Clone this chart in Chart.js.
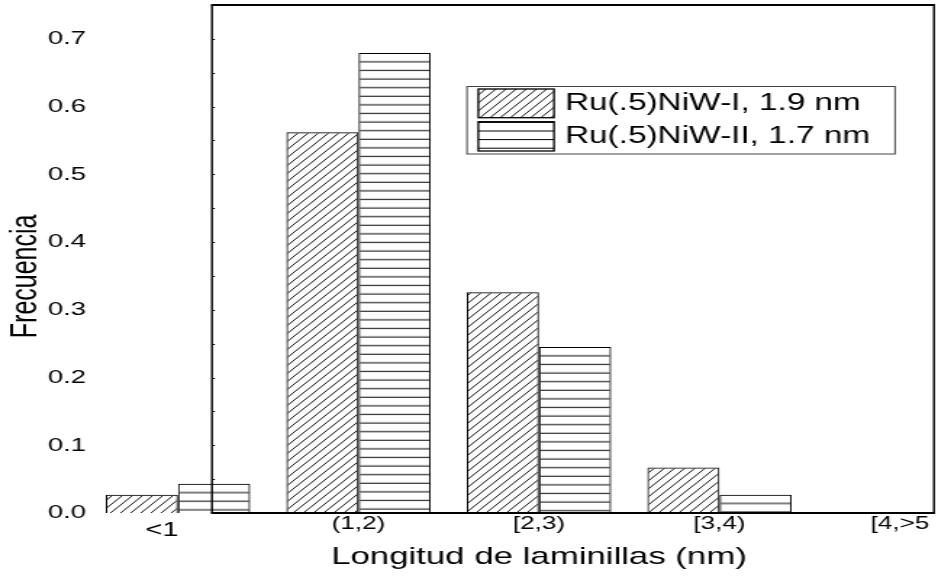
<!DOCTYPE html>
<html>
<head>
<meta charset="utf-8">
<title>Longitud de laminillas</title>
<script src="https://cdn.jsdelivr.net/npm/chart.js@4.4.1/dist/chart.umd.min.js"></script>
<style>
  html, body { margin: 0; padding: 0; background: #fff; overflow: hidden; }
  /* the original figure is stretched sideways: draw narrow, then widen */
  #wrap { width: 647px; height: 579px; transform: scaleX(1.449768); transform-origin: 0 0; }
  canvas { display: block; }
</style>
</head>
<body>
<div id="wrap"><canvas id="chart" width="647" height="579"></canvas></div>
<script>
const categories  = ['<1', '(1,2)', '[2,3)', '[3,4)', '[4,>5'];
const seriesNames = ['Ru(.5)NiW-I, 1.9 nm', 'Ru(.5)NiW-II, 1.7 nm'];
const freqNiW_I   = [0.027, 0.562, 0.326, 0.067, 0];
const freqNiW_II  = [0.043, 0.679, 0.245, 0.027, 0];
const yTickStep   = 0.1;
const yMax        = 0.75;

const SX = 938 / 647;          // page stretch
const sx = v => v / SX;        // screen x -> chart x
const FONT = "'Liberation Sans', Arial, Helvetica, sans-serif";

Chart.defaults.font.family = FONT;
Chart.defaults.color = '#000';

const canvas = document.getElementById('chart');
const ctx = canvas.getContext('2d');

// "/" hatching
function makeHatch() {
  const t = document.createElement('canvas');
  t.width = 7; t.height = 8;
  const g = t.getContext('2d');
  g.strokeStyle = '#000';
  g.lineWidth = 0.9;
  g.beginPath();
  [-7, 0, 7].forEach(x0 => { g.moveTo(x0, 8); g.lineTo(x0 + 7, 0); });
  g.stroke();
  return ctx.createPattern(t, 'repeat');
}
const hatch = makeHatch();

// horizontal lines 8.6px apart, the first one just under the top of the bar
const lineTile = document.createElement('canvas');
lineTile.width = 4; lineTile.height = 43;
(() => {
  const g = lineTile.getContext('2d');
  g.fillStyle = '#000';
  for (let k = 0; k < 5; k++) g.fillRect(0, 4 + 8.6 * k - 0.5, 4, 1);
})();
function linePattern(top) {
  const p = ctx.createPattern(lineTile, 'repeat');
  p.setTransform(new DOMMatrix().translate(0, top + 8.7 - 4));
  return p;
}

function fillFor(i, top) {
  return i === 0 ? hatch : linePattern(top);
}

const framePlugin = {
  id: 'frame',
  afterDatasetsDraw(chart) {
    const { ctx, chartArea: { top, bottom }, scales: { y } } = chart;
    const left = sx(212), right = sx(934);
    ctx.save();
    ctx.strokeStyle = '#000';
    ctx.lineWidth = 2;
    ctx.beginPath();
    ctx.moveTo(left - 0.7, top); ctx.lineTo(right + 0.7, top);
    ctx.moveTo(left - 0.7, bottom); ctx.lineTo(right + 0.7, bottom);
    ctx.stroke();
    ctx.lineWidth = 1.4;
    ctx.beginPath();
    ctx.moveTo(left, top); ctx.lineTo(left, bottom);
    ctx.moveTo(right, top); ctx.lineTo(right, bottom);
    ctx.stroke();
    // tiny inner ticks on the left edge
    ctx.lineWidth = 1;
    ctx.beginPath();
    for (let k = 1; k * 0.05 < yMax; k++) {
      const py = Math.round(y.getPixelForValue(k * 0.05)) + 0.5;
      ctx.moveTo(left, py); ctx.lineTo(left + 2, py);
    }
    ctx.stroke();
    ctx.restore();
  }
};

const legendPlugin = {
  id: 'boxLegend',
  afterDraw(chart) {
    const { ctx } = chart;
    const bx = sx(467), bw = sx(895) - sx(467), by = 86, bh = 67.5;
    const swX = sx(478.3), swW = sx(554) - sx(478.3);
    const rows = [{ top: 89, h: 28.7 }, { top: 121.7, h: 29.3 }];
    ctx.save();
    ctx.strokeStyle = '#444';
    ctx.lineWidth = 1;
    ctx.strokeRect(bx, by + 0.5, bw, bh);
    chart.data.datasets.forEach((ds, i) => {
      const r = rows[i];
      ctx.fillStyle = '#fff';
      ctx.fillRect(swX, r.top, swW, r.h);
      ctx.fillStyle = fillFor(i, r.top + 0.6);
      ctx.fillRect(swX, r.top, swW, r.h);
      ctx.strokeStyle = '#000';
      ctx.lineWidth = 1.3;
      ctx.strokeRect(swX, r.top, swW, r.h);
      ctx.fillStyle = '#000';
      ctx.font = `23px ${FONT}`;
      ctx.textAlign = 'left';
      ctx.textBaseline = 'middle';
      ctx.fillText(ds.label, sx(565), r.top + r.h / 2 + 0.5);
    });
    ctx.restore();
  }
};

new Chart(canvas, {
  type: 'bar',
  data: {
    labels: categories,
    datasets: [
      {
        label: seriesNames[0],
        data: freqNiW_I,
        backgroundColor: hatch,
        borderColor: '#000',
        borderWidth: 1,
        clip: false
      },
      {
        label: seriesNames[1],
        data: freqNiW_II,
        backgroundColor: c => {
          const y = c.chart.scales && c.chart.scales.y;
          const top = (c.type === 'data' && y) ? y.getPixelForValue(c.raw) : 0;
          return fillFor(1, top);
        },
        borderColor: '#000',
        borderWidth: 1,
        clip: false
      }
    ]
  },
  options: {
    responsive: false,
    animation: false,
    devicePixelRatio: 1,
    events: [],
    layout: { padding: { top: 5, right: 647 - sx(900), bottom: 0, left: 0 } },
    datasets: { bar: { categoryPercentage: 0.8, barPercentage: 1 } },
    plugins: { legend: { display: false }, tooltip: { enabled: false } },
    scales: {
      x: {
        offset: false,
        grid: { display: false, drawTicks: false },
        border: { display: false },
        ticks: {
          autoSkip: false,
          maxRotation: 0,
          padding: 0,
          color: '#000',
          callback: (v, i) => i === 0 ? categories[0] + '    ' : categories[i],
          font: c => c.index === 0 ? { size: 20, lineHeight: 1.7 } : { size: 18 }
        },
        title: {
          display: true,
          text: 'Longitud de laminillas (nm)',
          color: '#000',
          font: { size: 24 },
          padding: { top: 0, bottom: 7.6 }
        },
        afterFit: s => { s.height = 66; }
      },
      y: {
        min: 0,
        max: yMax,
        grid: { display: false, drawTicks: false },
        border: { display: false },
        ticks: {
          stepSize: yTickStep,
          includeBounds: false,
          padding: sx(178) - sx(86),
          color: '#000',
          font: { size: 19 },
          callback: v => v.toFixed(1)
        },
        title: {
          display: true,
          text: 'Frecuencia     ',
          color: '#000',
          font: { size: 25 },
          padding: { top: 3, bottom: 0 }
        },
        // the big label padding must not eat into the plot height
        afterFit: s => { s.width = sx(178); s.paddingTop = 0; s.paddingBottom = 0; }
      }
    }
  },
  plugins: [framePlugin, legendPlugin]
});
</script>
</body>
</html>
